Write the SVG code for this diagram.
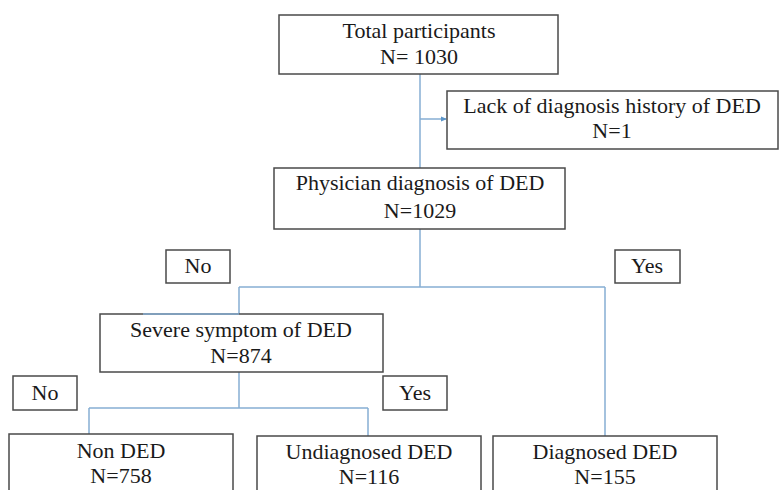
<svg xmlns="http://www.w3.org/2000/svg" width="779" height="490" viewBox="0 0 779 490">
<style>
.box{fill:#fff;stroke:#4a4a4a;stroke-width:1.5}
.t{font-family:'Liberation Serif','DejaVu Serif',serif;font-size:22px;fill:#1a1a1a;text-anchor:middle}
.c{fill:none;stroke:#86aed3;stroke-width:1.5}
</style>
<defs>
<marker id="ah" markerWidth="6" markerHeight="6" refX="5" refY="3" orient="auto" markerUnits="userSpaceOnUse">
<path d="M0,0.5 L6,3 L0,5.5 Z" fill="#5b95c9"/>
</marker>
</defs>
<rect width="779" height="490" fill="#fff"/>
<g id="connectors">
<path class="c" d="M420,74 V168"/>
<path class="c" d="M420,119 H446" marker-end="url(#ah)"/>
<path class="c" d="M420,229 V287"/>
<path class="c" d="M239,287 H605"/>
<path class="c" d="M239,287 V314"/>
<path class="c" d="M605,287 V436"/>
<path class="c" d="M239,372 V408"/>
<path class="c" d="M89,408 H368"/>
<path class="c" d="M89,408 V434"/>
<path class="c" d="M368,408 V436"/>
</g>
<g font-family="Liberation Serif, serif">
<g id="total">
<rect class="box" x="279" y="15" width="279" height="59"/>
<text class="t" x="419" y="38">Total participants</text>
<text class="t" x="419" y="64">N= 1030</text>
</g>
<g id="lack">
<rect class="box" x="447" y="91" width="331" height="58"/>
<text class="t" x="612" y="113">Lack of diagnosis history of DED</text>
<text class="t" x="612" y="138">N=1</text>
</g>
<g id="physician">
<rect class="box" x="274" y="168" width="291" height="61"/>
<text class="t" x="420" y="190">Physician diagnosis of DED</text>
<text class="t" x="420" y="218">N=1029</text>
</g>
<g id="no1">
<rect class="box" x="166" y="250" width="64" height="33"/>
<text class="t" x="198" y="273">No</text>
</g>
<g id="yes1">
<rect class="box" x="615" y="250" width="65" height="33"/>
<text class="t" x="647" y="273">Yes</text>
</g>
<g id="severe">
<rect class="box" x="100" y="314" width="283" height="58"/>
<path class="c" d="M143,314 H239"/>
<text class="t" x="241" y="337">Severe symptom of DED</text>
<text class="t" x="241" y="363">N=874</text>
</g>
<g id="no2">
<rect class="box" x="13" y="376" width="64" height="34"/>
<text class="t" x="45" y="400">No</text>
</g>
<g id="yes2">
<rect class="box" x="383" y="376" width="64" height="34"/>
<text class="t" x="415" y="400">Yes</text>
</g>
<g id="nonded">
<rect class="box" x="9" y="434" width="224" height="70"/>
<text class="t" x="121" y="458">Non DED</text>
<text class="t" x="121" y="483">N=758</text>
</g>
<g id="undiagnosed">
<rect class="box" x="257" y="436" width="224" height="70"/>
<text class="t" x="369" y="459">Undiagnosed DED</text>
<text class="t" x="369" y="484">N=116</text>
</g>
<g id="diagnosed">
<rect class="box" x="493" y="436" width="224" height="70"/>
<text class="t" x="605" y="459">Diagnosed DED</text>
<text class="t" x="605" y="484">N=155</text>
</g>
</g>
</svg>
